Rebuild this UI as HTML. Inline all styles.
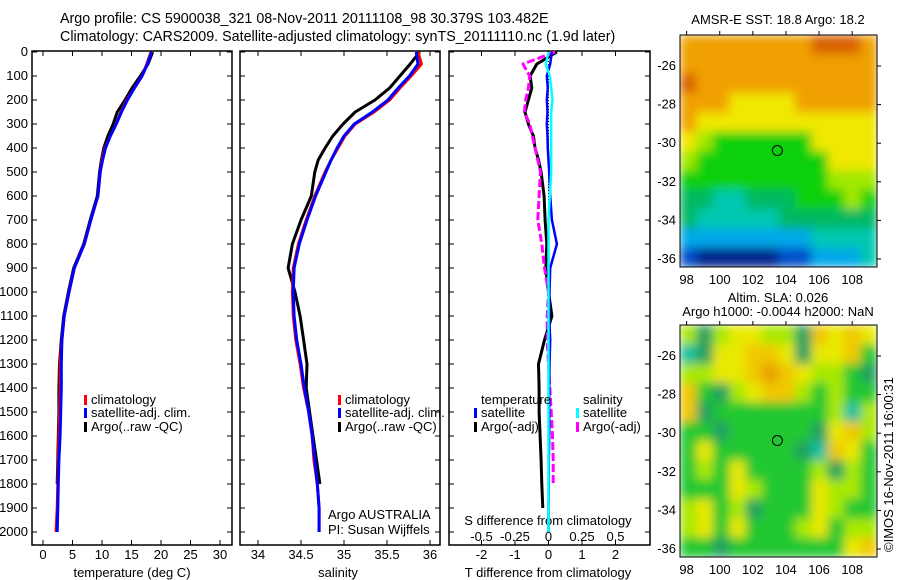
<!DOCTYPE html>
<html><head><meta charset="utf-8"><style>
html,body{margin:0;padding:0;background:#fff;}
svg{display:block;font-family:"Liberation Sans",sans-serif;font-size:13px;}
</style></head><body>
<svg id="c" width="900" height="580" xmlns="http://www.w3.org/2000/svg">
<defs>
<filter id="bl" x="0" y="0" width="1" height="1"><feGaussianBlur stdDeviation="5" edgeMode="duplicate"/></filter>
<clipPath id="cp1"><rect x="680" y="35" width="197" height="232"/></clipPath>
<clipPath id="cp2"><rect x="680" y="325" width="197" height="232"/></clipPath>
</defs>
<text x="60" y="23" font-size="14.3">Argo profile: CS 5900038_321 08-Nov-2011 20111108_98 30.379S 103.482E</text>
<text x="60" y="41" font-size="14.3">Climatology: CARS2009. Satellite-adjusted climatology: synTS_20111110.nc (1.9d later)</text>
<g id="g"></g>
</svg>
<script>
// ---- data ----
const depths=[0,50,100,150,200,250,300,350,400,450,500,600,700,800,900,1000,1100,1200,1300,1400,1500,1600,1700,1800,1900,2000];
const tempClim=[18.3,17.6,16.8,15.5,14.2,13.2,12.4,11.4,10.5,10.0,9.7,9.3,8.1,7.0,5.3,4.4,3.6,3.2,2.9,2.9,2.8,2.7,2.6,2.5,2.4,2.2];
const tempSat=[18.4,17.7,16.8,15.5,14.3,13.3,12.4,11.4,10.6,10.1,9.7,9.3,8.1,7.0,5.3,4.4,3.6,3.2,3.1,3.1,3.0,2.9,2.7,2.6,2.5,2.4];
const tempArgo=[18.6,17.8,16.5,15.1,13.9,12.6,11.9,11.0,10.3,9.9,9.6,9.2,8.0,6.9,5.2,4.3,3.5,3.1,2.8,2.7,2.7,2.6,2.5,2.4,null,null];
const salClim=[35.86,35.9,35.78,35.65,35.53,35.35,35.13,35.01,34.93,34.85,34.78,34.66,34.56,34.47,34.41,34.4,34.41,34.44,34.49,34.53,34.59,34.63,34.65,34.69,34.71,34.71];
const salSat=[35.84,35.86,35.76,35.63,35.51,35.33,35.12,35.0,34.92,34.85,34.79,34.67,34.57,34.48,34.42,34.41,34.42,34.45,34.5,34.54,34.59,34.63,34.66,34.69,34.71,34.71];
const salArgo=[35.88,35.77,35.65,35.53,35.36,35.13,34.99,34.87,34.78,34.7,34.66,34.62,34.5,34.4,34.35,34.43,34.49,34.53,34.57,34.56,34.6,34.64,34.68,34.72,null,null];
const tdiffSat=[0.1,0.05,-0.05,-0.02,-0.05,-0.03,-0.05,-0.03,-0.02,0.0,0.02,0.05,0.1,0.25,0.05,0.03,0.02,0.05,0.03,0.02,0.02,0.02,0.01,0.01,0.0,0.0];
const tdiffArgo=[0.25,-0.35,-0.55,-0.5,-0.6,-0.7,-0.6,-0.45,-0.4,-0.3,-0.22,-0.13,-0.1,-0.05,-0.08,0.0,0.1,-0.12,-0.3,-0.28,-0.28,-0.25,-0.22,-0.2,-0.17,null];
const sdiffSat=[0.0,-0.02,0.01,0.02,0.03,0.02,0.02,0.02,0.02,0.02,0.02,0.01,0.0,0.0,0.0,0.0,0.0,0.0,0.0,0.0,0.0,0.0,0.0,0.0,0.0,0.0];
const sdiffArgo=[0.05,-0.19,-0.14,-0.15,-0.17,-0.18,-0.14,-0.12,-0.1,-0.08,-0.06,-0.07,-0.08,-0.05,-0.03,0.0,-0.01,-0.01,0.0,0.01,0.02,0.03,0.035,0.035,null,null];
const depthTicks=[0,100,200,300,400,500,600,700,800,900,1000,1100,1200,1300,1400,1500,1600,1700,1800,1900,2000];
const tempTicks=[0,5,10,15,20,25,30];
const salTicks=[34,34.5,35,35.5,36];
const salTickLabels=["34","34.5","35","35.5","36"];
const tdTicks=[-2,-1,0,1,2];
const sdTicks=[-0.5,-0.25,0,0.25,0.5];
const sdTickLabels=["-0.5","-0.25","0","0.25","0.5"];
const lonTicks=[98,100,102,104,106,108];
const latTicks=[-26,-28,-30,-32,-34,-36];
const sstGrid=["888888889998","888888888888","988888888888","888777788888","877777777777","765555557777","655555555777","555555555666","443344455565","433333444444","222222223333","100000112223"];
const slaGrid=["313443315454","014455414452","334456543321","521345532322","512222222303","221222221453","242222210542","232422223132","222432224332","342312224322","342422234233","221222222245"];
const sstColors=["#00208a","#0050c8","#00a8e8","#00c8b0","#00b860","#10d010","#a0e800","#f0e800","#f0a000","#d86000"];
const slaColors=["#10c0a0","#20a060","#20c830","#a8e800","#e8e800","#f0c800","#e8a000"];
const argoLon=103.482, argoLat=-30.379;
// ---- helpers ----
const NS="http://www.w3.org/2000/svg", G=document.getElementById('g');
function mk(tag,a,parent){const e=document.createElementNS(NS,tag);for(const k in a)e.setAttribute(k,a[k]);(parent||G).appendChild(e);return e;}
const yD=d=>52+d*0.24;
const xT=t=>43+t*5.9;
const xS=s=>258+(s-34)*86;
const xTD=t=>548.5+t*33.5;
const xSD=s=>548.5+s*134;
function line(xf,vals,color,w,name,dash){
  let d="",pen=false;
  vals.forEach((v,i)=>{if(v==null){pen=false;return;}d+=(pen?"L":"M")+xf(v).toFixed(1)+","+yD(depths[i]).toFixed(1);pen=true;});
  const p=mk('path',{d:d,fill:'none',stroke:color,'stroke-width':w,'stroke-linejoin':'round'});
  if(dash)p.setAttribute('stroke-dasharray',dash);
  
  
}
function txt(x,y,s,anchor,name,extra){const t=mk('text',Object.assign({x:x,y:y,'text-anchor':anchor||'start'},extra||{}));t.textContent=s;
  
  return t;}
function frame(x0,x1,name){const r=mk('rect',{x:x0,y:51,width:x1-x0,height:494,fill:'none',stroke:'#000','stroke-width':1.5});
  
  
  depthTicks.forEach(d=>{mk('line',{x1:x0,x2:x0+5,y1:yD(d),y2:yD(d),stroke:'#000'});mk('line',{x1:x1-5,x2:x1,y1:yD(d),y2:yD(d),stroke:'#000'});});}
function xticks(xf,ticks,labels,name){ticks.forEach((t,i)=>{mk('line',{x1:xf(t),x2:xf(t),y1:545,y2:540,stroke:'#000'});mk('line',{x1:xf(t),x2:xf(t),y1:51,y2:56,stroke:'#000'});
  txt(xf(t),559,labels?labels[i]:String(t),'middle',name);});}
function legend(x,y,color,label,name,w){const r=mk('rect',{x:x,y:y-9,width:w||3,height:10,fill:color});
  
  
  txt(x+7,y,label,'start',name);}
// ---- panel 1 ----
frame(32,232,'temperature-panel');
depthTicks.forEach(d=>txt(28,yD(d)+4,String(d),'end','depth-tick-label'));
xticks(xT,tempTicks,null,'temperature-tick-label');
txt(132,577,'temperature (deg C)','middle','temperature-axis-title');
line(xT,tempArgo,'#000',3,'temperature-argo-line');
line(xT,tempClim,'#f00',3,'temperature-climatology-line');
line(xT,tempSat,'#00f',3,'temperature-satellite-line');
legend(84,404,'#f00','climatology','legend-climatology');
legend(84,417,'#00f','satellite-adj. clim.','legend-satellite-adj');
legend(84,431,'#000','Argo(..raw -QC)','legend-argo-raw');
// ---- panel 2 ----
frame(240,440,'salinity-panel');
xticks(xS,salTicks,salTickLabels,'salinity-tick-label');
txt(338,577,'salinity','middle','salinity-axis-title');
line(xS,salArgo,'#000',3,'salinity-argo-line');
line(xS,salClim,'#f00',3,'salinity-climatology-line');
line(xS,salSat,'#00f',3,'salinity-satellite-line');
legend(338,404,'#f00','climatology','legend-climatology-2');
legend(338,417,'#00f','satellite-adj. clim.','legend-satellite-adj-2');
legend(338,431,'#000','Argo(..raw -QC)','legend-argo-raw-2');
txt(328,519,'Argo AUSTRALIA','start','argo-agency-label');
txt(328,534,'PI: Susan Wijffels','start','pi-label');
// ---- panel 3 ----
frame(449,650,'difference-panel');
mk('line',{x1:xTD(0),x2:xTD(0),y1:52,y2:yD(2000),stroke:'#000','stroke-dasharray':'1,2'});
xticks(xTD,tdTicks,null,'tdiff-tick-label');
sdTicks.forEach((s,i)=>txt(xSD(s),541,sdTickLabels[i],'middle','sdiff-tick-label'));
txt(548,525,'S difference from climatology','middle','sdiff-axis-title');
txt(548,577,'T difference from climatology','middle','tdiff-axis-title');
line(xTD,tdiffArgo,'#000',3,'tdiff-argo-line');
line(xSD,sdiffArgo,'#f0f',3,'sdiff-argo-line','8,3');
line(xTD,tdiffSat,'#00f',2.5,'tdiff-satellite-line');
line(xSD,sdiffSat,'#0ff',2.5,'sdiff-satellite-line');
txt(481,404,'temperature','start','legend-temperature-heading');
legend(474,417,'#00f','satellite','legend-t-satellite');
legend(474,431,'#000','Argo(-adj)','legend-t-argo');
txt(583,404,'salinity','start','legend-salinity-heading');
legend(576,417,'#0ff','satellite','legend-s-satellite');
legend(576,431,'#f0f','Argo(-adj)','legend-s-argo');
// ---- maps ----
function map(top,bottom,grid,colors,name,clip){
  const x0=680,x1=877,lonL=97.6,lonR=109.5;
  const yLat26=top+31,yLat36=bottom-8;
  const py=(yLat36-yLat26)/10;
  const lx=l=>x0+(l-lonL)*(x1-x0)/(lonR-lonL);
  const ly=l=>yLat26+(-26-l)*py;
  const cw=(x1-x0)/grid[0].length, ch=(bottom-top)/grid.length;
  const wrap=mk('g',{'clip-path':'url(#'+clip+')'});
  const cg=mk('g',{filter:'url(#bl)'},wrap);
  grid.forEach((row,r)=>{for(let c=0;c<row.length;c++){const e=mk('rect',{x:x0+c*cw,y:top+r*ch,width:cw+0.5,height:ch+0.5,fill:colors[+row[c]]},cg);
    
    }});
  const f=mk('rect',{x:x0,y:top,width:x1-x0,height:bottom-top,fill:'none',stroke:'#000'});
  
  
  lonTicks.forEach(l=>{mk('line',{x1:lx(l),x2:lx(l),y1:top,y2:top-4,stroke:'#000'});txt(lx(l),bottom+17,String(l),'middle',name+'-lon-label');});
  latTicks.forEach(l=>{mk('line',{x1:x1,x2:x1+4,y1:ly(l),y2:ly(l),stroke:'#000'});txt(x0-4,ly(l)+4,String(l),'end',name+'-lat-label');});
  const c=mk('circle',{cx:lx(argoLon),cy:ly(argoLat),r:5,fill:'none',stroke:'#000'});
  
  
}
map(35,267,sstGrid,sstColors,'sst-map','cp1');
txt(778,24,'AMSR-E SST: 18.8 Argo: 18.2','middle','sst-map-title');
map(325,557,slaGrid,slaColors,'sla-map','cp2');
txt(778,302,'Altim. SLA: 0.026','middle','sla-map-title');
txt(778,316,'Argo h1000: -0.0044 h2000: NaN','middle','sla-map-subtitle');
txt(0,0,'©IMOS 16-Nov-2011 16:00:31','start','imos-credit',{transform:'translate(893,552) rotate(-90)'});
</script>
</body></html>
